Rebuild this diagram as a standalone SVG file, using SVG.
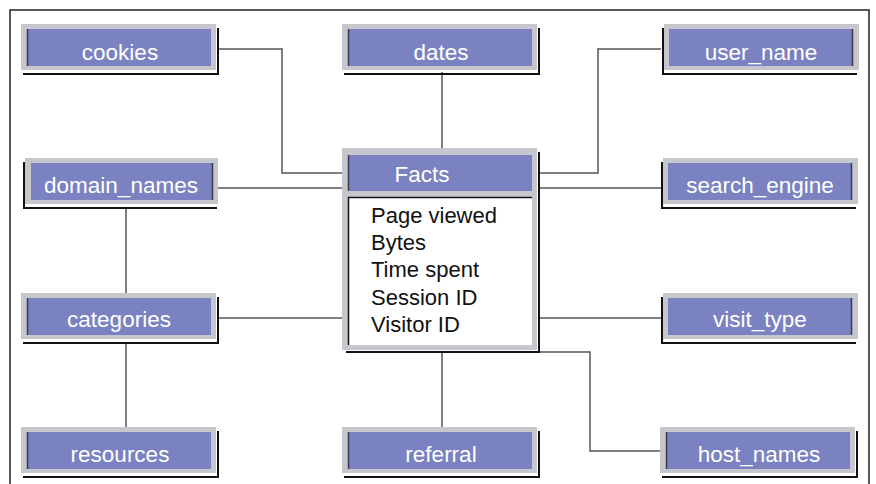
<svg xmlns="http://www.w3.org/2000/svg" width="876" height="484" viewBox="0 0 876 484">
<style>
.g{fill:#c6c6cc}
.b{fill:#7a82c1}
.e{stroke:#3a3a4a;stroke-width:1.5;fill:none}
.sh{stroke:#111;stroke-width:2;fill:none}
.lbl{font-family:"Liberation Sans",Arial,sans-serif;font-size:22.5px;fill:#fff;text-anchor:middle}
.fld{font-family:"Liberation Sans",Arial,sans-serif;font-size:22px;fill:#111}
.c{stroke:#555;stroke-width:1.5;fill:none}
</style>
<rect x="0" y="0" width="876" height="484" fill="#fff"/>
<rect x="10" y="10" width="859" height="490" fill="none" stroke="#222" stroke-width="1.5"/>
<g id="connectors">
<polyline class="c" points="218,49 282,49 282,173 348,173"/>
<polyline class="c" points="442,72 442,148"/>
<polyline class="c" points="538,173 598,173 598,49 661,49"/>
<polyline class="c" points="538,188 661,188"/>
<polyline class="c" points="218,188 342,188"/>
<polyline class="c" points="126,207 126,293"/>
<polyline class="c" points="218,318 342,318"/>
<polyline class="c" points="126,343 126,427"/>
<polyline class="c" points="538,318 661,318"/>
<polyline class="c" points="442,352 442,427"/>
<polyline class="c" points="538,352 590,352 590,451 660,451"/>
</g>
<g id="cookies" transform="translate(21,24)">
<rect class="g" width="195" height="46"/><rect class="b" x="6" y="5" width="184" height="37"/>
<line class="e" x1="6.5" y1="5" x2="6.5" y2="42"/><polyline class="sh" points="197,4 197,50 2,50"/>
<text class="lbl" x="99" y="36">cookies</text></g>
<g id="dates" transform="translate(342,24)">
<rect class="g" width="195" height="46"/><rect class="b" x="6" y="5" width="184" height="37"/>
<line class="e" x1="6.5" y1="5" x2="6.5" y2="42"/><polyline class="sh" points="197,4 197,50 2,50"/>
<text class="lbl" x="99" y="36">dates</text></g>
<g id="user_name" transform="translate(664,24)">
<rect class="g" width="195" height="46"/><rect class="b" x="5" y="5" width="184" height="37"/>
<line class="e" x1="188.5" y1="5" x2="188.5" y2="42"/><polyline class="sh" points="-1,4 -1,50 193,50"/>
<text class="lbl" x="97" y="36">user_name</text></g>
<g id="domain_names" transform="translate(25,158)">
<rect class="g" width="193" height="46"/><rect class="b" x="6" y="5" width="182" height="37"/>
<line class="e" x1="187.5" y1="5" x2="187.5" y2="42"/><polyline class="sh" points="-1,4 -1,50 192,50"/>
<text class="lbl" x="96" y="35">domain_names</text></g>
<g id="search_engine" transform="translate(663,158)">
<rect class="g" width="195" height="46"/><rect class="b" x="5" y="5" width="184" height="37"/>
<line class="e" x1="188.5" y1="5" x2="188.5" y2="42"/><polyline class="sh" points="-1,4 -1,50 193,50"/>
<text class="lbl" x="97" y="35">search_engine</text></g>
<g id="categories" transform="translate(21,293)">
<rect class="g" width="195" height="46"/><rect class="b" x="6" y="5" width="184" height="37"/>
<line class="e" x1="6.5" y1="5" x2="6.5" y2="42"/><polyline class="sh" points="197,4 197,50 2,50"/>
<text class="lbl" x="98" y="34">categories</text></g>
<g id="visit_type" transform="translate(663,293)">
<rect class="g" width="195" height="46"/><rect class="b" x="5" y="5" width="184" height="37"/>
<line class="e" x1="188.5" y1="5" x2="188.5" y2="42"/><polyline class="sh" points="-1,4 -1,50 193,50"/>
<text class="lbl" x="97" y="34">visit_type</text></g>
<g id="resources" transform="translate(21,427)">
<rect class="g" width="195" height="46"/><rect class="b" x="6" y="5" width="184" height="37"/>
<line class="e" x1="6.5" y1="5" x2="6.5" y2="42"/><polyline class="sh" points="197,4 197,50 2,50"/>
<text class="lbl" x="99" y="35">resources</text></g>
<g id="referral" transform="translate(342,427)">
<rect class="g" width="195" height="46"/><rect class="b" x="6" y="5" width="184" height="37"/>
<line class="e" x1="6.5" y1="5" x2="6.5" y2="42"/><polyline class="sh" points="197,4 197,50 2,50"/>
<text class="lbl" x="99" y="35">referral</text></g>
<g id="host_names" transform="translate(660,427)">
<rect class="g" width="195" height="46"/><rect class="b" x="6" y="5" width="184" height="37"/>
<line class="e" x1="6.5" y1="5" x2="6.5" y2="42"/><polyline class="sh" points="197,4 197,50 2,50"/>
<text class="lbl" x="99" y="35">host_names</text></g>
<g id="Facts">
<rect class="g" x="342" y="148" width="195" height="202"/>
<rect class="b" x="348" y="155" width="184" height="36"/>
<line class="e" x1="348.5" y1="155" x2="348.5" y2="191"/>
<rect x="348" y="197" width="184" height="148" fill="#fff"/>
<polyline points="348.5,345 348.5,197.5 532,197.5" stroke="#111" stroke-width="1.5" fill="none"/>
<polyline class="sh" points="539,152 539,352 346,352"/>
<text class="lbl" x="422" y="182">Facts</text>
<text class="fld" x="371" y="223">Page viewed</text>
<text class="fld" x="371" y="250">Bytes</text>
<text class="fld" x="371" y="277">Time spent</text>
<text class="fld" x="371" y="305">Session ID</text>
<text class="fld" x="371" y="332">Visitor ID</text>
</g>
</svg>
